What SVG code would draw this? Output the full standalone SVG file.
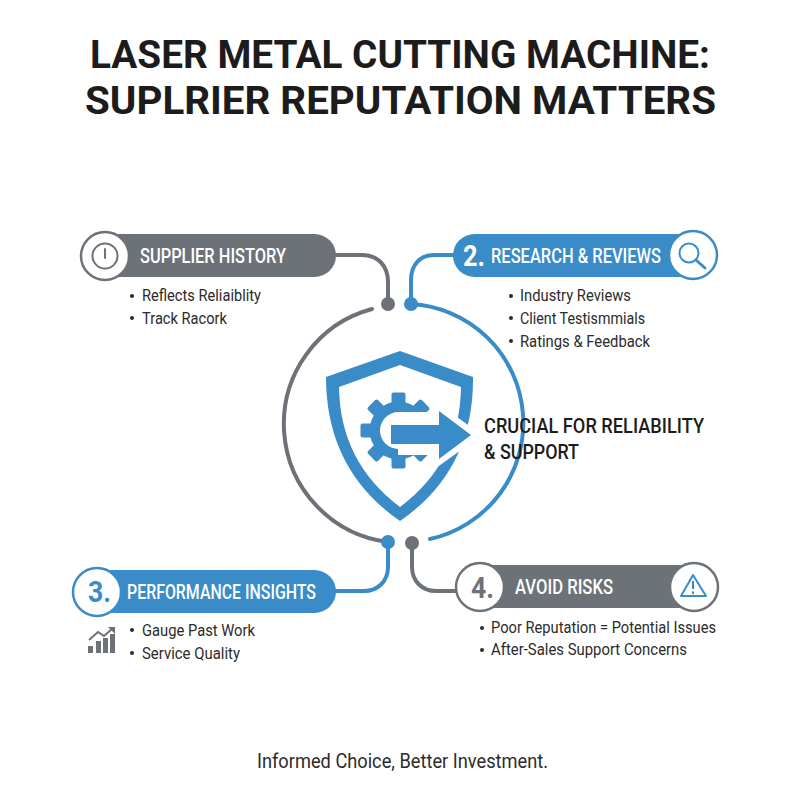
<svg xmlns="http://www.w3.org/2000/svg" width="800" height="800" viewBox="0 0 800 800">
<style>
text{font-family:Roboto,"Liberation Sans",Arial,sans-serif}
.title{font-size:39px;font-weight:700;fill:#1c1c1c}
.head{font-size:20px;font-weight:500;fill:#fff}
.num{font-size:30px;font-weight:700}
.item{font-size:17px;fill:#2b2b2b}
.dotb{fill:#2b2b2b}
.gl{fill:none;stroke:#6d7279;stroke-width:4;stroke-linecap:round}
.bl{fill:none;stroke:#3a8cc9;stroke-width:4;stroke-linecap:round}
.gf{fill:#6d7279}
.bf{fill:#3a8cc9}
.cg{fill:#fff;stroke:#6d7279;stroke-width:2.5}
.cb{fill:#fff;stroke:#3a8cc9;stroke-width:2.5}
</style>
<rect width="800" height="800" fill="#fff"/>
<g id="title">
<text class="title" x="90" y="68" textLength="620" lengthAdjust="spacingAndGlyphs">LASER METAL CUTTING MACHINE:</text>
<text class="title" x="85" y="114" textLength="631" lengthAdjust="spacingAndGlyphs">SUPLRIER REPUTATION MATTERS</text>
</g>
<g id="connectors">
<path class="gl" d="M372 309A119 119 0 0 0 388 542"/>
<path class="bl" d="M411 304A119 119 0 0 1 430 539"/>
<path class="gl" d="M334 255H362C378 255 388 266 388 282V304"/>
<path class="bl" d="M455 255H434C420 255 411 265 411 280V304"/>
<path class="bl" d="M334 591H364C378 591 388 581 388 567V542"/>
<path class="gl" d="M458 591H436C422 591 412 581 412 567V543"/>
<circle class="gf" cx="388" cy="304" r="7"/>
<circle class="bf" cx="411" cy="304" r="7"/>
<circle class="bf" cx="388" cy="542" r="7"/>
<circle class="gf" cx="412" cy="543" r="7"/>
</g>
<g id="center">
<path class="bf" fill-rule="evenodd" d="M400 351L473 377Q474 470 400 521Q326 470 326 377ZM400 365L339 387Q340 462 400 507Q460 462 461 387Z"/>
<g class="bf" transform="translate(398.500 430.500)">
<rect x="-7" y="-38" width="14" height="14" rx="2"/>
<rect x="-7" y="-38" width="14" height="14" rx="2" transform="rotate(45)"/>
<rect x="-7" y="-38" width="14" height="14" rx="2" transform="rotate(90)"/>
<rect x="-7" y="-38" width="14" height="14" rx="2" transform="rotate(135)"/>
<rect x="-7" y="-38" width="14" height="14" rx="2" transform="rotate(180)"/>
<rect x="-7" y="-38" width="14" height="14" rx="2" transform="rotate(225)"/>
<rect x="-7" y="-38" width="14" height="14" rx="2" transform="rotate(270)"/>
<rect x="-7" y="-38" width="14" height="14" rx="2" transform="rotate(315)"/>
<circle r="29"/>
<circle r="18.500" fill="#fff"/>
</g>
<path fill="#fff" d="M398 412H436V402L482 435L436 468V455H398Z"/>
<path class="bf" d="M391 425H439V411L471 435L439 459V444H391Z"/>
<text x="484" y="433" font-size="21" font-weight="500" fill="#1c1c1c" textLength="220" lengthAdjust="spacingAndGlyphs">CRUCIAL FOR RELIABILITY</text>
<text x="484" y="459" font-size="21" font-weight="500" fill="#1c1c1c" textLength="95" lengthAdjust="spacingAndGlyphs">&amp; SUPPORT</text>
</g>
<g id="node1">
<rect class="gf" x="90" y="234" width="246" height="43" rx="21.500"/>
<circle class="cg" cx="105" cy="256" r="24"/>
<circle cx="105" cy="256" r="12.500" fill="none" stroke="#6d7279" stroke-width="2"/>
<path d="M105 249V258" stroke="#6d7279" stroke-width="2" stroke-linecap="round"/>
<text class="head" x="140" y="263" textLength="146" lengthAdjust="spacingAndGlyphs">SUPPLIER HISTORY</text>
<circle class="dotb" cx="132" cy="296" r="2"/>
<text class="item" x="142" y="301" textLength="119" lengthAdjust="spacingAndGlyphs">Reflects Reliaiblity</text>
<circle class="dotb" cx="132" cy="318" r="2"/>
<text class="item" x="142" y="324" textLength="85" lengthAdjust="spacingAndGlyphs">Track Racork</text>
</g>
<g id="node2">
<rect class="bf" x="453" y="234" width="250" height="43" rx="21.500"/>
<circle class="cb" cx="693" cy="255" r="24"/>
<circle cx="689" cy="253" r="9.500" fill="none" stroke="#3a8cc9" stroke-width="2"/>
<path d="M696 260L705 268" stroke="#3a8cc9" stroke-width="3" stroke-linecap="round"/>
<text class="num" x="463" y="266" fill="#fff" textLength="22" lengthAdjust="spacingAndGlyphs">2.</text>
<text class="head" x="491" y="263" textLength="170" lengthAdjust="spacingAndGlyphs">RESEARCH &amp; REVIEWS</text>
<circle class="dotb" cx="511" cy="296" r="2"/>
<text class="item" x="520" y="301" textLength="111" lengthAdjust="spacingAndGlyphs">Industry Reviews</text>
<circle class="dotb" cx="511" cy="318" r="2"/>
<text class="item" x="520" y="324" textLength="125" lengthAdjust="spacingAndGlyphs">Client Testismmials</text>
<circle class="dotb" cx="511" cy="341" r="2"/>
<text class="item" x="520" y="347" textLength="130" lengthAdjust="spacingAndGlyphs">Ratings &amp; Feedback</text>
</g>
<g id="node3">
<rect class="bf" x="90" y="570" width="246" height="43" rx="21.500"/>
<circle class="cb" cx="97" cy="592" r="24"/>
<text class="num" x="88" y="602" fill="#3a8cc9" textLength="23" lengthAdjust="spacingAndGlyphs">3.</text>
<text class="head" x="127" y="599" textLength="189" lengthAdjust="spacingAndGlyphs">PERFORMANCE INSIGHTS</text>
<g class="gf">
<rect x="88" y="646" width="5" height="7"/>
<rect x="96" y="641" width="5" height="12"/>
<rect x="103" y="638" width="5" height="15"/>
<rect x="110" y="634" width="5" height="19"/>
</g>
<path d="M89 640L98 632L104 636L113 628" fill="none" stroke="#6d7279" stroke-width="2"/>
<path class="gf" d="M108 627H115V634Z"/>
<circle class="dotb" cx="132" cy="630" r="2"/>
<text class="item" x="142" y="636" textLength="113" lengthAdjust="spacingAndGlyphs">Gauge Past Work</text>
<circle class="dotb" cx="132" cy="653" r="2"/>
<text class="item" x="142" y="659" textLength="98" lengthAdjust="spacingAndGlyphs">Service Quality</text>
</g>
<g id="node4">
<rect class="gf" x="480" y="565" width="214" height="43" rx="2"/>
<circle class="cg" cx="480" cy="587" r="24"/>
<circle class="cg" cx="694" cy="587" r="24"/>
<path d="M693 575L681 596H706Z" fill="none" stroke="#3a8cc9" stroke-width="2" stroke-linejoin="round"/>
<path d="M693 581V589M693 591.500V594" stroke="#3a8cc9" stroke-width="2"/>
<text class="num" x="471" y="598" fill="#6d7279" textLength="23" lengthAdjust="spacingAndGlyphs">4.</text>
<text class="head" x="515" y="594" textLength="98" lengthAdjust="spacingAndGlyphs">AVOID RISKS</text>
<circle class="dotb" cx="482" cy="628" r="2"/>
<text class="item" x="491" y="633" textLength="225" lengthAdjust="spacingAndGlyphs">Poor Reputation = Potential Issues</text>
<circle class="dotb" cx="482" cy="650" r="2"/>
<text class="item" x="491" y="655" textLength="196" lengthAdjust="spacingAndGlyphs">After-Sales Support Concerns</text>
</g>
<g id="footer">
<text x="257" y="768" font-size="20" fill="#2b2b2b" textLength="291" lengthAdjust="spacingAndGlyphs">Informed Choice, Better Investment.</text>
</g>
</svg>
